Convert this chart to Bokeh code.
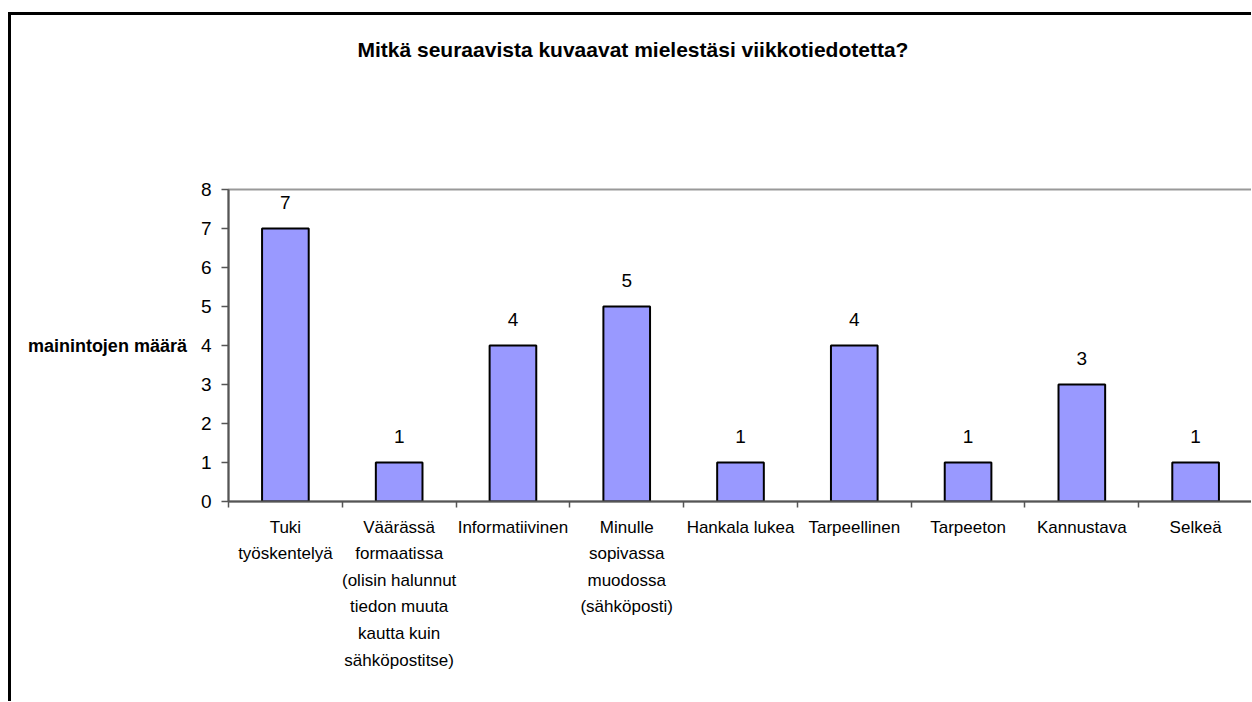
from bokeh.plotting import figure
from bokeh.models import (ColumnDataSource, LabelSet, Range1d, FixedTicker,
                          LinearAxis)
from bokeh.core.properties import value
from bokeh.embed import file_html
from bokeh.resources import INLINE

# ---- data ----
categories = [
    "Tuki\ntyöskentelyä",
    "Väärässä\nformaatissa\n(olisin halunnut\ntiedon muuta\nkautta kuin\nsähköpostitse)",
    "Informatiivinen",
    "Minulle\nsopivassa\nmuodossa\n(sähköposti)",
    "Hankala lukea",
    "Tarpeellinen",
    "Tarpeeton",
    "Kannustava",
    "Selkeä",
]
counts = [7, 1, 4, 5, 1, 4, 1, 3, 1]
y_ticks = [0, 1, 2, 3, 4, 5, 6, 7, 8]
title_text = "Mitkä seuraavista kuvaavat mielestäsi viikkotiedotetta?"
y_label_text = "mainintojen määrä"

FONT = "Liberation Sans"

n = len(categories)
centers = [i + 0.5 for i in range(n)]
bounds = [float(i) for i in range(n + 1)]

src = ColumnDataSource(dict(x=centers, top=counts, lbl=[str(c) for c in counts]))

p = figure(width=1243, height=689, output_backend="svg", toolbar_location=None,
           x_range=Range1d(0, n), y_range=Range1d(0, 8),
           min_border_left=217, min_border_right=2, min_border_top=174,
           min_border_bottom=203, x_axis_type=None, y_axis_type=None)
p.styles = {"border-left": "3px solid #000", "border-top": "3px solid #000",
            "margin-top": "12px", "margin-left": "8px"}
p.background_fill_color = "white"
p.border_fill_color = "white"
p.outline_line_color = "#999999"
p.outline_line_width = 2

# title: trailing empty lines lift the text up to the top of the chart
p.title.text = title_text + "\n" * 5
p.title.align = "left"
p.title.offset = 129
p.title.standoff = 10
p.title.text_font = FONT
p.title.text_font_style = "bold"
p.title.text_font_size = "21px"
p.title.text_line_height = 1.07
p.title.text_color = "black"

# bars
p.vbar(x="x", top="top", width=0.41, bottom=0, source=src,
       fill_color="#9999FF", line_color="black", line_width=2)

# value labels
p.add_layout(LabelSet(x="x", y="top", text="lbl", source=src, y_offset=20,
                      text_align="center", text_baseline="alphabetic",
                      text_font=value(FONT), text_font_size="19px",
                      text_color="black"))

# x axis: labels at centers, ticks at boundaries (minor)
xaxis = LinearAxis(ticker=FixedTicker(ticks=centers, minor_ticks=bounds))
xaxis.major_label_overrides = {c: lab for c, lab in zip(centers, categories)}
xaxis.major_tick_line_color = None
xaxis.minor_tick_line_color = "#555555"
xaxis.minor_tick_line_width = 1.5
xaxis.minor_tick_out = 6
xaxis.minor_tick_in = 0
xaxis.axis_line_color = "#555555"
xaxis.axis_line_width = 2
xaxis.major_label_standoff = 10
xaxis.major_label_text_font = FONT
xaxis.major_label_text_font_size = "17px"
xaxis.major_label_text_line_height = 1.40
xaxis.major_label_text_color = "black"
xaxis.major_label_orientation = "horizontal"
p.add_layout(xaxis, "below")

# y axis
yaxis = LinearAxis(ticker=FixedTicker(ticks=y_ticks))
yaxis.major_tick_out = 7
yaxis.major_tick_in = 0
yaxis.major_tick_line_color = "#555555"
yaxis.major_tick_line_width = 1.5
yaxis.minor_tick_line_color = None
yaxis.axis_line_color = "#555555"
yaxis.axis_line_width = 2
yaxis.major_label_standoff = 10
yaxis.major_label_text_font = FONT
yaxis.major_label_text_font_size = "19px"
yaxis.major_label_text_color = "black"
yaxis.axis_label = y_label_text
yaxis.axis_label_orientation = "horizontal"
yaxis.axis_label_standoff = 11
yaxis.axis_label_text_font = FONT
yaxis.axis_label_text_font_style = "bold"
yaxis.axis_label_text_font_size = "18px"
yaxis.axis_label_text_color = "black"
p.add_layout(yaxis, "left")

# grid
p.xgrid.visible = False
p.ygrid.ticker = FixedTicker(ticks=y_ticks[1:-1])
p.ygrid.grid_line_color = "black"
p.ygrid.grid_line_width = 1

open("out.html", "w").write(file_html(p, INLINE))
